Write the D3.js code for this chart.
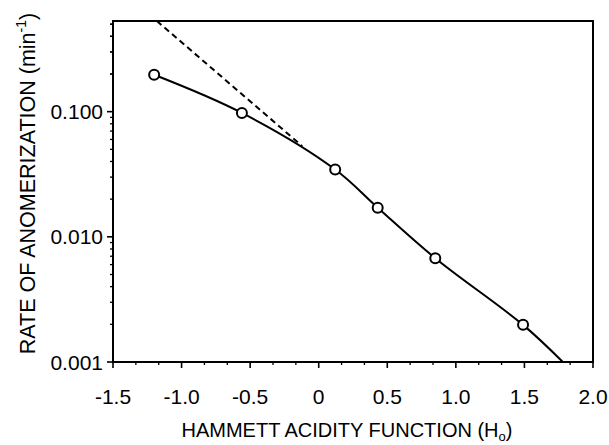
<!DOCTYPE html>
<html>
<head>
<meta charset="utf-8">
<script src="https://cdn.jsdelivr.net/npm/d3@7"></script>
<style>
  body { margin: 0; background: #fff; }
  text { font-family: "Liberation Sans", Arial, sans-serif; fill: #000; }
</style>
</head>
<body>
<svg id="chart" width="609" height="445"></svg>
<script>
// measured points (Hammett acidity function vs rate, min^-1)
let hammett = [-1.2, -0.56, 0.12, 0.43, 0.85, 1.49]
let rate = [0.197, 0.0976, 0.0345, 0.0171, 0.00675, 0.00198]

// smooth fitted curve runs on past the last point to the axis
let curveEnd = {x: 1.78, y: 0.001}

// dashed extrapolation of the linear part
let dashX = [-1.18, -0.12]
let dashY = [0.53, 0.053]

let xTicks = [-1.5, -1.0, -0.5, 0, 0.5, 1.0, 1.5, 2.0]
let xTickLabels = ['-1.5', '-1.0', '-0.5', '0', '0.5', '1.0', '1.5', '2.0']
let yTicks = [0.001, 0.01, 0.1]
let yTickLabels = ['0.001', '0.010', '0.100']

let pLeft = 113, pRight = 593, pTop = 21, pBottom = 362
let yMax = 0.53

let svg = d3.select('#chart')

let x = d3.scaleLinear()
	.domain([-1.5, 2.0])
	.range([pLeft, pRight])

let y = d3.scaleLog()
	.domain([0.001, yMax])
	.range([pBottom, pTop])

// minor x ticks, two between each pair of majors
let xMinor = []
xTicks.slice(0, -1).forEach((t, i) => {
	let step = (xTicks[i+1] - t) / 3
	xMinor.push(t + step, t + 2*step)
})

let yMinor = []
yTicks.forEach(t => {
	d3.range(2, 10).forEach(m => {
		if (t*m <= yMax) yMinor.push(t*m)
	})
})
yMinor.push(0.2, 0.3, 0.4, 0.5)
yMinor = yMinor.filter(v => v <= yMax)

let ink = svg.append('g')

// frame
ink.append('rect')
	.attr('x', pLeft)
	.attr('y', pTop)
	.attr('width', pRight - pLeft)
	.attr('height', pBottom - pTop)
	.attr('fill', 'none')
	.attr('stroke', '#000')
	.attr('stroke-width', 2)

// x axis ticks
ink.selectAll('.xmaj')
	.data(xTicks)
	.enter()
	.append('line')
	.attr('x1', d => x(d))
	.attr('x2', d => x(d))
	.attr('y1', pBottom)
	.attr('y2', pBottom + 6)
	.attr('stroke', '#000')
	.attr('stroke-width', 1.6)

ink.selectAll('.xmin')
	.data(xMinor)
	.enter()
	.append('line')
	.attr('x1', d => x(d))
	.attr('x2', d => x(d))
	.attr('y1', pBottom)
	.attr('y2', pBottom + 3)
	.attr('stroke', '#000')
	.attr('stroke-width', 1.3)

ink.selectAll('.xlab')
	.data(xTicks)
	.enter()
	.append('text')
	.attr('x', d => x(d))
	.attr('y', 404)
	.attr('text-anchor', 'middle')
	.attr('font-size', 21)
	.text((d, i) => xTickLabels[i])

// y axis ticks
ink.selectAll('.ymaj')
	.data(yTicks)
	.enter()
	.append('line')
	.attr('x1', pLeft - 6)
	.attr('x2', pLeft)
	.attr('y1', d => y(d))
	.attr('y2', d => y(d))
	.attr('stroke', '#000')
	.attr('stroke-width', 1.6)

ink.selectAll('.ymin')
	.data(yMinor)
	.enter()
	.append('line')
	.attr('x1', pLeft - 3)
	.attr('x2', pLeft)
	.attr('y1', d => y(d))
	.attr('y2', d => y(d))
	.attr('stroke', '#000')
	.attr('stroke-width', 1.3)

ink.selectAll('.ylab')
	.data(yTicks)
	.enter()
	.append('text')
	.attr('x', pLeft - 10)
	.attr('y', d => y(d) + 7.5)
	.attr('text-anchor', 'end')
	.attr('font-size', 21)
	.text((d, i) => yTickLabels[i])

// axis titles
let xt = ink.append('text')
	.attr('x', 347)
	.attr('y', 437)
	.attr('text-anchor', 'middle')
	.attr('font-size', 20)
xt.append('tspan').text('HAMMETT ACIDITY FUNCTION (H')
xt.append('tspan').attr('font-size', 13).attr('dy', 4).text('o')
xt.append('tspan').attr('dy', -4).text(')')

let yt = ink.append('text')
	.attr('transform', 'translate(35,' + ((pTop + pBottom) / 2 - 8) + ') rotate(-90)')
	.attr('text-anchor', 'middle')
	.attr('font-size', 21.5)
yt.append('tspan').text('RATE OF ANOMERIZATION (min')
yt.append('tspan').attr('font-size', 14).attr('dy', -9).text('-1')
yt.append('tspan').attr('dy', 9).text(')')

// clip to frame
svg.append('clipPath')
	.attr('id', 'plotclip')
	.append('rect')
	.attr('x', pLeft)
	.attr('y', pTop)
	.attr('width', pRight - pLeft)
	.attr('height', pBottom - pTop)

let plot = svg.append('g').attr('clip-path', 'url(#plotclip)')

// dashed line
let dashPts = dashX.map((d, i) => [x(d), y(dashY[i])])
plot.append('path')
	.attr('d', d3.line()(dashPts))
	.attr('fill', 'none')
	.attr('stroke', '#000')
	.attr('stroke-width', 2)
	.attr('stroke-dasharray', '6,4')

// solid curve
let curvePts = hammett.map((d, i) => [x(d), y(rate[i])])
curvePts.push([x(curveEnd.x), y(curveEnd.y)])
plot.append('path')
	.attr('d', d3.line().curve(d3.curveCatmullRom.alpha(0.5))(curvePts))
	.attr('fill', 'none')
	.attr('stroke', '#000')
	.attr('stroke-width', 2)

// data circles
svg.selectAll('.pt')
	.data(hammett)
	.enter()
	.append('circle')
	.attr('cx', d => x(d))
	.attr('cy', (d, i) => y(rate[i]))
	.attr('r', 5)
	.attr('fill', '#fff')
	.attr('stroke', '#000')
	.attr('stroke-width', 2)
</script>
</body>
</html>
